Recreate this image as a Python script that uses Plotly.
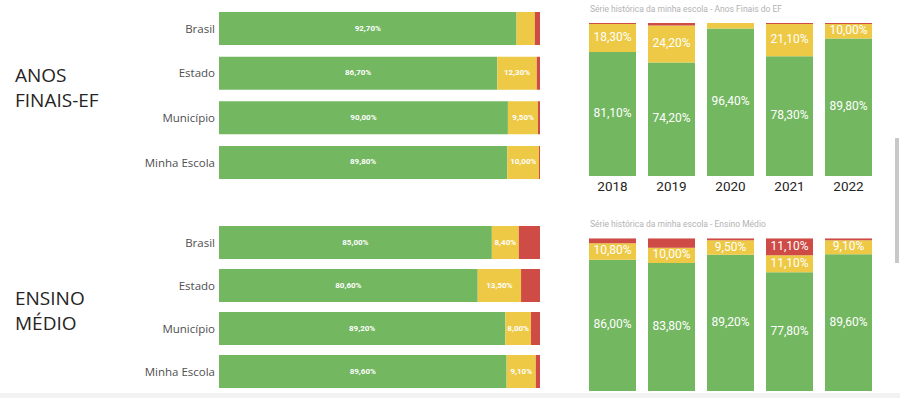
import plotly.graph_objects as go

GREEN = "#73B761"
YELLOW = "#EEC945"
RED = "#CE4B46"

# ---- data ----
categorias = ["Brasil", "Estado", "Município", "Minha Escola"]
ef_adequado = [92.7, 86.7, 90.0, 89.8]
ef_intermed = [5.7, 12.3, 9.5, 10.0]
ef_baixo = [1.6, 1.0, 0.5, 0.2]

em_adequado = [85.0, 80.6, 89.2, 89.6]
em_intermed = [8.4, 13.5, 8.0, 9.1]
em_baixo = [6.6, 5.9, 2.8, 1.3]

anos = ["2018", "2019", "2020", "2021", "2022"]
hist_ef_adequado = [81.1, 74.2, 96.4, 78.3, 89.8]
hist_ef_intermed = [18.3, 24.2, 3.6, 21.1, 10.0]
hist_ef_baixo = [0.6, 1.6, 0.0, 0.6, 0.2]

hist_em_adequado = [86.0, 83.8, 89.2, 77.8, 89.6]
hist_em_intermed = [10.8, 10.0, 9.5, 11.1, 9.1]
hist_em_baixo = [3.2, 6.2, 1.3, 11.1, 1.3]

titulo_ef = "Série histórica da minha escola - Anos Finais do EF"
titulo_em = "Série histórica da minha escola - Ensino Médio"

MIN_LABEL = 7.0


def fmt(v):
    return (f"{v:.2f}".replace(".", ",") + "%") if v >= MIN_LABEL else ""


W, H = 900, 398
fig = go.Figure()

LABEL_FONT = "Roboto, Arial, sans-serif"


def add_horizontal(series, xa, ya, width):
    base = [0.0] * len(categorias)
    for vals, col in series:
        fig.add_trace(go.Bar(
            orientation="h", y=categorias, x=vals, base=base[:], width=width,
            marker=dict(color=col, line=dict(width=0)),
            xaxis=xa, yaxis=ya, hoverinfo="skip", showlegend=False))
        mids = [b + v / 2 for b, v in zip(base, vals)]
        fig.add_trace(go.Scatter(
            x=mids, y=categorias, mode="text", text=[fmt(v) for v in vals],
            textposition="middle center",
            textfont=dict(color="white", size=8, family=LABEL_FONT, weight="bold"),
            xaxis=xa, yaxis=ya, hoverinfo="skip", showlegend=False))
        base = [b + v for b, v in zip(base, vals)]


def add_vertical(series, xa, ya, width):
    base = [0.0] * len(anos)
    for vals, col in series:
        fig.add_trace(go.Bar(
            x=anos, y=vals, base=base[:], width=width,
            marker=dict(color=col, line=dict(width=0)),
            xaxis=xa, yaxis=ya, hoverinfo="skip", showlegend=False))
        mids = [b + v / 2 for b, v in zip(base, vals)]
        fig.add_trace(go.Scatter(
            x=anos, y=mids, mode="text", text=[fmt(v) for v in vals],
            textposition="middle center",
            textfont=dict(color="white", size=12, family=LABEL_FONT),
            xaxis=xa, yaxis=ya, hoverinfo="skip", showlegend=False))
        base = [b + v for b, v in zip(base, vals)]


add_horizontal([(ef_adequado, GREEN), (ef_intermed, YELLOW), (ef_baixo, RED)], "x", "y", 0.74)
add_horizontal([(em_adequado, GREEN), (em_intermed, YELLOW), (em_baixo, RED)], "x2", "y2", 0.767)
add_vertical([(hist_ef_adequado, GREEN), (hist_ef_intermed, YELLOW), (hist_ef_baixo, RED)], "x3", "y3", 0.797)
add_vertical([(hist_em_adequado, GREEN), (hist_em_intermed, YELLOW), (hist_em_baixo, RED)], "x4", "y4", 0.797)


def py(px):
    return 1 - px / H


left_dom = [219 / W, 540 / W]
right_dom = [583 / W, 878 / W]
cat_font = dict(family="Open Sans, sans-serif", size=11.5, color="#4f4f4f")

fig.update_layout(
    width=W, height=H, margin=dict(l=0, r=0, t=0, b=0),
    paper_bgcolor="white", plot_bgcolor="rgba(0,0,0,0)",
    barmode="overlay", showlegend=False,
    xaxis=dict(domain=left_dom, range=[0, 100], visible=False, fixedrange=True, anchor="y"),
    yaxis=dict(domain=[py(184.8), py(6.2)], type="category", categoryarray=categorias,
               range=[3.5, -0.5], showgrid=False, zeroline=False, showline=False,
               ticks="", tickfont=cat_font, ticklabelstandoff=3, anchor="x"),
    xaxis2=dict(domain=left_dom, range=[0, 100], visible=False, anchor="y2"),
    yaxis2=dict(domain=[py(393), py(221)], type="category", categoryarray=categorias,
                range=[3.5, -0.5], showgrid=False, zeroline=False, showline=False,
                ticks="", tickfont=cat_font, ticklabelstandoff=3, anchor="x2"),
    xaxis3=dict(domain=right_dom, type="category", categoryarray=anos, range=[-0.5, 4.5],
                showgrid=False, zeroline=False, showline=False, ticks="",
                tickfont=dict(family="Roboto, sans-serif", size=13.5, color="#252423"),
                anchor="y3"),
    yaxis3=dict(domain=[py(176), py(23)], range=[0, 100], visible=False, anchor="x3"),
    xaxis4=dict(domain=right_dom, type="category", categoryarray=anos, range=[-0.5, 4.5],
                showgrid=False, zeroline=False, showline=False, ticks="",
                showticklabels=False, anchor="y4"),
    yaxis4=dict(domain=[py(391), py(238.3)], range=[0, 100], visible=False, anchor="x4"),
)

title_font = dict(family="Open Sans, sans-serif", size=19, color="#252423")
fig.add_annotation(text="ANOS<br>FINAIS-EF", x=13 / W, y=py(87), xref="paper", yref="paper",
                   xanchor="left", yanchor="middle", showarrow=False, align="left",
                   font=title_font)
fig.add_annotation(text="ENSINO<br>MÉDIO", x=13 / W, y=py(310), xref="paper", yref="paper",
                   xanchor="left", yanchor="middle", showarrow=False, align="left",
                   font=title_font)

sub_font = dict(family="Roboto, sans-serif", size=8.5, color="#b3b3b3")
fig.add_annotation(text=titulo_ef, x=588 / W, y=py(9), xref="paper", yref="paper",
                   xanchor="left", yanchor="middle", showarrow=False, font=sub_font)
fig.add_annotation(text=titulo_em, x=588 / W, y=py(224), xref="paper", yref="paper",
                   xanchor="left", yanchor="middle", showarrow=False, font=sub_font)

# scrollbar and bottom strip
fig.add_shape(type="rect", xref="paper", yref="paper", x0=895 / W, x1=899 / W,
              y0=py(263), y1=py(138), fillcolor="#c8c8c8", line=dict(width=0), layer="above")
fig.add_shape(type="rect", xref="paper", yref="paper", x0=0, x1=1,
              y0=0, y1=py(393), fillcolor="#f2f2f2", line=dict(width=0), layer="above")

fig.write_html(
    "out.html",
    config={"displayModeBar": False},
    post_script="document.body.style.margin='0';document.body.style.overflow='hidden';",
)
